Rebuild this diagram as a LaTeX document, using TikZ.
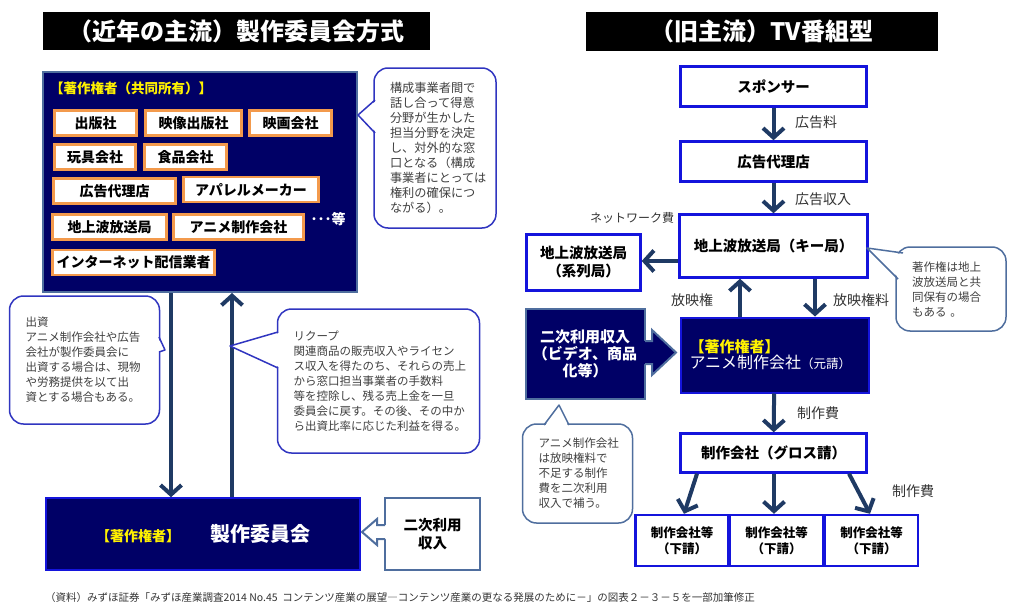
\documentclass[tikz,border=0pt]{standalone}
\usepackage{fontspec}
\setmainfont{Noto Sans CJK JP}
\usetikzlibrary{arrows.meta}

\definecolor{navy}{HTML}{000066}
\definecolor{arrowblue}{HTML}{1F3A64}
\definecolor{orangeline}{HTML}{F39A4C}
\definecolor{calloutblue}{HTML}{3035C0}
\definecolor{steel}{HTML}{4F6E9E}
\definecolor{boxblue}{HTML}{1414DC}

\begin{document}
\begin{tikzpicture}[x=1pt,y=-1pt,
  title/.style={fill=black,text=white,inner sep=0,font=\fontsize{24}{24}\selectfont\bfseries},
  navybox/.style={fill=navy,draw=boxblue,line width=1.5pt,inner sep=0,text=white},
  member/.style={draw=orangeline,line width=2.8pt,fill=white,inner sep=0,minimum height=25,font=\fontsize{14}{14}\selectfont\bfseries},
  flowbox/.style={draw=boxblue,line width=2.4pt,fill=white,inner sep=0,align=center,font=\fontsize{14.5}{18}\selectfont\bfseries},
  subbox/.style={flowbox,minimum width=93,minimum height=51,font=\fontsize{12.5}{16}\selectfont\bfseries},
  flow/.style={draw=arrowblue,line width=4pt,-{Straight Barb[length=9.5pt,width=21pt]}},
  flowlabel/.style={text=black!80,inner sep=0,font=\fontsize{14}{14}\selectfont},
  bubble/.style={draw=calloutblue,line width=1.5pt,fill=white,rounded corners=14pt,inner xsep=16pt,align=left,text=black!75,font=\fontsize{11.5}{15}\selectfont},
  pointer/.style={draw=calloutblue,line width=1.5pt,line join=round}
]
\useasboundingbox (0,0) rectangle (1024,610);

% titles
\node[title,minimum width=387,minimum height=38] (titleL) at (236.5,31) {（近年の主流）製作委員会方式};
\node[title,minimum width=352,minimum height=39] (titleR) at (762,31.5) {（旧主流）TV番組型};

%% left: production committee
\node[navybox,draw=steel,line width=2pt,minimum width=314,minimum height=220] (owners) at (200,182) {};
\node[anchor=west,inner sep=0,text=yellow,font=\fontsize{13.5}{14}\selectfont\bfseries] (ownerslabel) at (50,88) {【著作権者（共同所有）】};

\node[member,minimum width=82] (pub) at (95.5,123) {出版社};
\node[member,minimum width=96] (video) at (193.5,123) {映像出版社};
\node[member,minimum width=82] (film) at (290.5,123) {映画会社};
\node[member,minimum width=81] (toy) at (95,157) {玩具会社};
\node[member,minimum width=82] (food) at (185.5,157) {食品会社};
\node[member,minimum width=122] (adagency) at (114.5,191) {広告代理店};
\node[member,minimum width=135] (apparel) at (251,189.5) {アパレルメーカー};
\node[member,minimum width=114] (tv) at (109.5,227) {地上波放送局};
\node[member,minimum width=130] (anim) at (238.5,227) {アニメ制作会社};
\node[member,minimum width=162] (net) at (133.5,262.5) {インターネット配信業者};
\node[inner sep=0,text=white,font=\fontsize{14}{14}\selectfont\bfseries] (etc) at (328,219) {･･･等};

\node[navybox,minimum width=314,minimum height=72] (committee) at (203,534)
  {{\color{yellow}\fontsize{14}{14}\selectfont\bfseries【著作権者】}\hspace{30pt}{\fontsize{20}{20}\selectfont\bfseries 製作委員会}};
\node[draw=steel,line width=2pt,fill=white,inner sep=0,minimum width=95,minimum height=72,align=center,
  font=\fontsize{14.5}{18}\selectfont\bfseries] (incomeL) at (432.5,534) {二次利用\\収入};
\fill[white] (387,525) -- (377,525) -- (377,519) -- (362,532) -- (377,545) -- (377,539) -- (387,539) -- cycle;
\draw[steel,line width=2pt] (385,525) -- (377,525) -- (377,519) -- (362,532) -- (377,545) -- (377,539) -- (385,539);

\draw[flow] ([xshift=-29]owners.south) -- ([xshift=-32]committee.north);
\draw[flow] ([xshift=29]committee.north) -- ([xshift=32]owners.south);

\node[bubble,text width=90,minimum height=160,font=\fontsize{12.2}{15}\selectfont] (noteA) at (435,148)
  {構成事業者間で\\話し合って得意\\分野が生かした\\担当分野を決定\\し、対外的な窓\\口となる（構成\\事業者にとっては\\権利の確保につ\\ながる）。};
\fill[white] (376,101) -- (358,115) -- (376,132) -- cycle;
\draw[pointer] (375,100) -- (358,115) -- (375,133);

\node[bubble,text width=118,minimum height=128] (noteB) at (84.5,360)
  {出資\\アニメ制作会社や広告\\会社が製作委員会に\\出資する場合は、現物\\や労務提供を以て出\\資とする場合もある。};
\fill[white] (158,338) -- (165,350) -- (158,352) -- cycle;
\draw[pointer] (159,337) -- (165,350) -- (159,352);

\node[bubble,text width=170,minimum height=144] (noteC) at (378.5,381)
  {リクープ\\関連商品の販売収入やライセン\\ス収入を得たのち、それらの売上\\から窓口担当事業者の手数料\\等を控除し、残る売上金を一旦\\委員会に戻す。その後、その中か\\ら出資比率に応じた利益を得る。};
\fill[white] (279,333) -- (230,346) -- (279,367) -- cycle;
\draw[pointer] (278,332) -- (230,346) -- (278,368);

%% right: TV programme
\node[flowbox,minimum width=186,minimum height=40] (sponsor) at (773.5,86.5) {スポンサー};
\node[flowbox,minimum width=186,minimum height=40] (agency) at (773.5,161.5) {広告代理店};
\node[flowbox,minimum width=188,minimum height=63] (key) at (773.5,246) {地上波放送局（キー局）};
\node[flowbox,minimum width=114,minimum height=56] (local) at (583.5,262.5) {地上波放送局\\（系列局）};
\node[navybox,line width=2pt,minimum width=188,minimum height=75,text width=170,align=left] (studio) at (774.5,355)
  {{\color{yellow}\fontsize{15}{19}\selectfont\bfseries【著作権者】}\\{\fontsize{16}{19}\selectfont アニメ制作会社{\fontsize{12.5}{19}\selectfont（元請）}}};
\node[navybox,draw=steel,line width=2pt,minimum width=119,minimum height=90,align=center,
  font=\fontsize{15}{17}\selectfont\bfseries] (incomeR) at (585,353.5) {二次利用収入\\（ビデオ、商品\\化等）};
\node[flowbox,minimum width=186,minimum height=39] (gross) at (773.5,453) {制作会社（グロス請）};
\node[subbox] (subA) at (682,540.5) {制作会社等\\（下請）};
\node[subbox] (subB) at (776.5,540.5) {制作会社等\\（下請）};
\node[subbox] (subC) at (871.5,540.5) {制作会社等\\（下請）};

\fill[navy] (643,341) -- (652,341) -- (652,330) -- (676,352.5) -- (652,375) -- (652,364) -- (643,364) -- cycle;
\draw[steel,line width=2pt,line join=miter] (645,341) -- (652,341) -- (652,330) -- (676,352.5) -- (652,375) -- (652,364) -- (645,364);

\draw[flow] (sponsor) -- (agency);
\draw[flow] (agency) -- (key);
\draw[flow] ([yshift=-15]key.west) -- ([yshift=1.5]local.east);
\draw[flow] ([xshift=-34.5]studio.north) -- ([xshift=-33.5]key.south);
\draw[flow] ([xshift=41.5]key.south) -- ([xshift=40.5]studio.north);
\draw[flow] (studio) -- (gross);
\draw[flow] ([xshift=-76.5]gross.south) -- ([xshift=2]subA.north);
\draw[flow] ([xshift=0.5]gross.south) -- ([xshift=-2.5]subB.north);
\draw[flow] ([xshift=75.5]gross.south) -- ([xshift=-1.5]subC.north);

\node[flowlabel,anchor=west] (feeA) at (795,122) {広告料};
\node[flowlabel,anchor=west] (feeB) at (795,199) {広告収入};
\node[flowlabel,font=\fontsize{12}{12}\selectfont] (netfee) at (632,218) {ネットワーク費};
\node[flowlabel] (right) at (692,300) {放映権};
\node[flowlabel] (rightfee) at (861,300) {放映権料};
\node[flowlabel,anchor=west] (costA) at (797,413) {制作費};
\node[flowlabel,anchor=west] (costB) at (892,491) {制作費};

\node[bubble,draw=steel,text width=78,minimum height=84] (noteD) at (951,289)
  {著作権は地上\\波放送局と共\\同保有の場合\\もある 。};
\fill[white] (901,254) -- (867,248) -- (899,278) -- cycle;
\draw[pointer,draw=steel] (903,253) -- (867,248) -- (898,279);

\node[bubble,draw=steel,text width=78,minimum height=99] (noteE) at (577.5,473.5)
  {アニメ制作会社\\は放映権料で\\不足する制作\\費を二次利用\\収入で補う。};
\fill[white] (545,426) -- (559,405) -- (568,426) -- cycle;
\draw[pointer,draw=steel] (544,425) -- (559,405) -- (569,425);

% source
\node[anchor=west,inner sep=0,text=black!80,font=\fontsize{10.5}{11}\selectfont] (source) at (45,598)
  {（資料）みずほ証券「みずほ産業調査2014 No.45\ \ コンテンツ産業の展望―コンテンツ産業の更なる発展のために－」の図表２－３－５を一部加筆修正};

\end{tikzpicture}
\end{document}
